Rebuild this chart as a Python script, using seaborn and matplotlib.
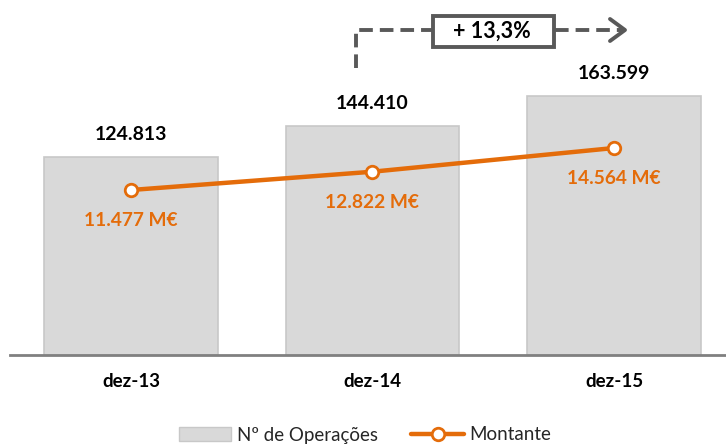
import matplotlib
matplotlib.use("Agg")
import matplotlib.pyplot as plt
import seaborn as sns
import pandas as pd
from matplotlib.patches import Patch, Rectangle
from matplotlib.lines import Line2D

# data
periodos = ["dez-13", "dez-14", "dez-15"]
n_operacoes = [124813, 144410, 163599]
montante = [11477, 12822, 14564]
lbl_operacoes = ["124.813", "144.410", "163.599"]
lbl_montante = ["11.477 M€", "12.822 M€", "14.564 M€"]
crescimento = "+ 13,3%"

orange = "#E46C0A"
sns.set_theme(style="white")
plt.rcParams["font.family"] = ["Lato", "DejaVu Sans"]

df = pd.DataFrame({"periodo": periodos, "ops": n_operacoes, "mont": montante})

fig = plt.figure(figsize=(7.26, 4.45), dpi=100)
ax = fig.add_axes([10 / 726, 1 - 355 / 445, 716 / 726, 335 / 445])

sns.barplot(data=df, x="periodo", y="ops", color="#D9D9D9", width=0.72,
            edgecolor="#C8C8C8", linewidth=1.2, saturation=1, ax=ax)
ax.set_xlim(-0.501, 2.464)
ax.set_ylim(0, 211200)

for i, t in enumerate(lbl_operacoes):
    ax.annotate(t, (i, n_operacoes[i]), xytext=(0, 10), textcoords="offset points",
                ha="center", va="bottom", fontsize=14, fontweight="bold", color="black")

ax2 = ax.twinx()
sns.lineplot(data=df, x="periodo", y="mont", color=orange, linewidth=3.2,
             marker="o", markersize=9, markerfacecolor="white",
             markeredgecolor=orange, markeredgewidth=2, ax=ax2)
ax2.set_ylim(-655, 23977)
ax2.set_xlim(-0.501, 2.464)
for i, t in enumerate(lbl_montante):
    ax2.annotate(t, (i, montante[i]), xytext=(0, -22), textcoords="offset points",
                 ha="center", va="center", fontsize=13.8, fontweight="bold", color=orange)

for a in (ax, ax2):
    a.set_yticks([])
    a.set_ylabel("")
    a.set_xlabel("")
    for s in ["top", "right", "left"]:
        a.spines[s].set_visible(False)
ax2.spines["bottom"].set_visible(False)
ax.spines["bottom"].set_color("#808080")
ax.spines["bottom"].set_linewidth(2)
ax.tick_params(axis="x", length=0, pad=13)
for lab in ax.get_xticklabels():
    lab.set_fontweight("bold")
    lab.set_fontsize(13.5)
    lab.set_color("black")

# growth arrow (figure pixel coords)
def px(x, y):
    return (x / 726, 1 - y / 445)

grey = "#595959"
dash = dict(color=grey, linewidth=2.8, linestyle=(0, (3.5, 1.8)))
fig.add_artist(Line2D([px(356, 68)[0], px(356, 30)[0], px(432, 30)[0]],
                      [px(356, 68)[1], px(356, 30)[1], px(432, 30)[1]], **dash))
fig.add_artist(Line2D([px(555, 30)[0], px(622, 30)[0]],
                      [px(555, 30)[1], px(622, 30)[1]], **dash))
fig.add_artist(Line2D([px(610, 19)[0], px(625, 30)[0], px(610, 41)[0]],
                      [px(610, 19)[1], px(625, 30)[1], px(610, 41)[1]],
                      color=grey, linewidth=2.8))
x0, y0 = px(433, 47)
fig.add_artist(Rectangle((x0, y0), 121 / 726, 31 / 445, transform=fig.transFigure,
                         facecolor="white", edgecolor=grey, linewidth=2.8))
fig.text(*px(492, 31), crescimento, ha="center", va="center", fontsize=15.5,
         fontweight="bold", color="black")

handles = [Patch(facecolor="#D9D9D9", edgecolor="#C8C8C8", label="Nº de Operações"),
           Line2D([0], [0], color=orange, linewidth=3.2, marker="o", markersize=9,
                  markerfacecolor="white", markeredgecolor=orange,
                  markeredgewidth=2, label="Montante")]
fig.legend(handles=handles, loc="center", bbox_to_anchor=(365 / 726, 1 - 435 / 445),
           ncol=2, frameon=False, fontsize=13.5, handlelength=2.8,
           columnspacing=1.8, handletextpad=0.3)

fig.savefig("out.png", dpi=100)
